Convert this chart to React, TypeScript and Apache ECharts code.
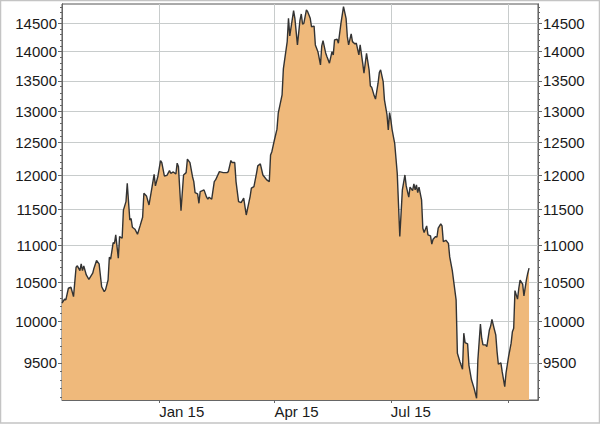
import React, { useEffect, useRef } from "react";
import * as echarts from "echarts";

const dates: string[] = [
  "2014-10-17","2014-10-19","2014-10-20","2014-10-22","2014-10-24","2014-10-26","2014-10-28","2014-10-29","2014-10-31","2014-11-01",
  "2014-11-02","2014-11-03","2014-11-05","2014-11-07","2014-11-10","2014-11-11","2014-11-13","2014-11-15","2014-11-17","2014-11-19",
  "2014-11-20","2014-11-22","2014-11-23","2014-11-24","2014-11-26","2014-11-27","2014-11-28","2014-11-30","2014-12-01","2014-12-03",
  "2014-12-04","2014-12-06","2014-12-07","2014-12-09","2014-12-10","2014-12-11","2014-12-13","2014-12-15","2014-12-17","2014-12-19",
  "2014-12-20","2014-12-22","2014-12-24","2014-12-26","2014-12-28","2014-12-29","2014-12-31","2015-01-02","2015-01-03","2015-01-05",
  "2015-01-07","2015-01-09","2015-01-10","2015-01-12","2015-01-14","2015-01-15","2015-01-16","2015-01-18","2015-01-20","2015-01-22",
  "2015-01-23","2015-01-25","2015-01-27","2015-01-28","2015-01-29","2015-01-31","2015-02-01","2015-02-02","2015-02-05","2015-02-07",
  "2015-02-08","2015-02-09","2015-02-11","2015-02-13","2015-02-14","2015-02-17","2015-02-20","2015-02-23","2015-02-24","2015-02-26",
  "2015-02-27","2015-03-01","2015-03-02","2015-03-04","2015-03-06","2015-03-08","2015-03-09","2015-03-10","2015-03-13","2015-03-14",
  "2015-03-16","2015-03-18","2015-03-19","2015-03-21","2015-03-23","2015-03-25","2015-03-26","2015-03-28","2015-03-29","2015-03-30",
  "2015-04-01","2015-04-03","2015-04-04","2015-04-07","2015-04-08","2015-04-11","2015-04-12","2015-04-13","2015-04-16","2015-04-17",
  "2015-04-19","2015-04-21","2015-04-22","2015-04-23","2015-04-24","2015-04-26","2015-04-27","2015-04-29","2015-04-30","2015-05-02",
  "2015-05-03","2015-05-05","2015-05-07","2015-05-08","2015-05-09","2015-05-11","2015-05-12","2015-05-14","2015-05-16","2015-05-17",
  "2015-05-18","2015-05-20","2015-05-21","2015-05-23","2015-05-25","2015-05-27","2015-05-28","2015-05-29","2015-05-31","2015-06-01",
  "2015-06-03","2015-06-04","2015-06-06","2015-06-07","2015-06-09","2015-06-10","2015-06-12","2015-06-14","2015-06-15","2015-06-16",
  "2015-06-18","2015-06-19","2015-06-21","2015-06-22","2015-06-23","2015-06-25","2015-06-26","2015-06-28","2015-06-29","2015-06-30",
  "2015-07-01","2015-07-02","2015-07-04","2015-07-06","2015-07-08","2015-07-10","2015-07-12","2015-07-13","2015-07-15","2015-07-16",
  "2015-07-18","2015-07-19","2015-07-20","2015-07-21","2015-07-22","2015-07-23","2015-07-25","2015-07-26","2015-07-27","2015-07-29",
  "2015-07-30","2015-08-01","2015-08-02","2015-08-03","2015-08-05","2015-08-06","2015-08-07","2015-08-09","2015-08-10","2015-08-11",
  "2015-08-13","2015-08-15","2015-08-16","2015-08-18","2015-08-21","2015-08-22","2015-08-24","2015-08-26","2015-08-27","2015-08-28",
  "2015-08-30","2015-08-31","2015-09-02","2015-09-04","2015-09-06","2015-09-07","2015-09-09","2015-09-10","2015-09-11","2015-09-13",
  "2015-09-14","2015-09-16","2015-09-17","2015-09-18","2015-09-20","2015-09-21","2015-09-22","2015-09-23","2015-09-25","2015-09-26",
  "2015-09-28","2015-09-29","2015-10-01","2015-10-03","2015-10-04","2015-10-05","2015-10-06","2015-10-08","2015-10-09","2015-10-10",
  "2015-10-12","2015-10-13","2015-10-15","2015-10-16","2015-10-17",
];

const values: number[] = [
  10233,10284,10275,10425,10438,10317,10702,10720,10657,10747,
  10657,10720,10599,10542,10622,10689,10791,10747,10445,10381,
  10403,10532,10836,10810,11034,11025,11141,10823,11118,11095,
  11491,11613,11883,11351,11370,11249,11221,11151,11267,11389,
  11736,11696,11565,11784,12015,11843,11990,12223,12192,11990,
  12000,12070,12030,12050,12020,12183,12131,11482,12005,12040,
  12244,12192,11979,11906,11745,11726,11589,11760,11784,11677,
  11648,11677,11648,11906,11931,12055,12040,12040,12055,12223,
  12192,12192,11906,11613,11598,11663,11540,11421,11686,11809,
  11833,12030,12142,12172,12005,11956,11931,11906,12309,12359,
  12540,12710,12965,13266,13702,14175,14592,14276,14732,14592,
  14117,14561,14671,14488,14500,14745,14713,14592,14440,14452,
  14117,13998,13770,14099,14193,13981,13913,13800,13998,13942,
  14205,14217,14147,14500,14805,14592,14263,14117,14311,14175,
  14134,14147,13942,14117,13800,13628,13971,13685,13414,13393,
  13249,13195,13459,13639,13685,13485,13183,12938,12699,12975,
  12858,12699,12488,12030,11118,11784,12005,11843,11677,11824,
  11774,11872,11784,11858,11745,11824,11638,11235,11174,11267,
  11141,11127,11015,11081,11118,11109,11235,11295,11267,11048,
  11067,11025,10840,10659,10275,9614,9512,9424,9857,9743,
  9727,9473,9301,9205,9090,9533,9970,9796,9715,9715,
  9694,9897,9945,10028,9897,9836,9634,9485,9500,9396,
  9223,9378,9573,9736,9876,9918,10394,10284,10425,10532,
  10480,10327,10542,10622,10689,
];

const yTicks: number[] = [9500, 10000, 10500, 11000, 11500, 12000, 12500, 13000, 13500, 14000, 14500];
const yMinorTicks: number[] = [
  9100, 9200, 9300, 9400, 9600, 9700, 9800, 9900, 10100, 10200, 10300, 10400,
  10600, 10700, 10800, 10900, 11100, 11200, 11300, 11400, 11600, 11700, 11800, 11900,
  12100, 12200, 12300, 12400, 12600, 12700, 12800, 12900, 13100, 13200, 13300, 13400,
  13600, 13700, 13800, 13900, 14100, 14200, 14300, 14400, 14600, 14700, 14800,
];
const xGridDates: string[] = ["2015-01-01", "2015-04-01", "2015-07-01", "2015-10-01"];
const xLabelDates: string[] = ["2015-01-01", "2015-04-01", "2015-07-01"];
const monthNames: string[] = ["Jan", "Feb", "Mar", "Apr", "May", "Jun", "Jul", "Aug", "Sep", "Oct", "Nov", "Dec"];
const xMin = "2014-10-17";
const xMax = "2015-10-24";
const yMin = 9070;
const yMax = 14855;

function toTs(s: string): number {
  const [y, m, d] = s.split("-").map(Number);
  return new Date(y, m - 1, d).getTime();
}

const FONT = "'Liberation Sans', Arial, sans-serif";

export default function App() {
  const ref = useRef<HTMLDivElement>(null);
  useEffect(() => {
    if (!ref.current) return;
    const chart = echarts.init(ref.current, undefined, { renderer: "svg" });
    const labelStyle = { color: "#1a1a1a", fontSize: 15, fontFamily: FONT };
    const yBase = (pos: "left" | "right", main: boolean) => ({
      type: "log" as const,
      logBase: 10,
      position: pos,
      min: yMin,
      max: yMax,
      axisLine: { show: true, lineStyle: { color: "#666", width: 1 } },
      axisTick: {
        show: true,
        length: main ? 4 : 2,
        customValues: main ? yTicks : yMinorTicks,
        lineStyle: { color: "#666", width: 1 },
      },
      axisLabel: main
        ? { show: true, customValues: yTicks, margin: 5, ...labelStyle, formatter: (v: number) => String(Math.round(v)) }
        : { show: false },
      splitLine: { show: main && pos === "left", lineStyle: { color: "#c8cccc", width: 1 } },
    });
    chart.setOption({
      animation: false,
      backgroundColor: "#ffffff",
      grid: { left: 62, right: 62, top: 4, bottom: 24, show: true, borderColor: "#555", borderWidth: 1, backgroundColor: "transparent" },
      xAxis: {
        type: "value",
        min: toTs(xMin),
        max: toTs(xMax),
        axisLine: { show: true, lineStyle: { color: "#666", width: 1 } },
        axisTick: { show: true, length: 3, customValues: xGridDates.map(toTs), lineStyle: { color: "#666" } },
        axisLabel: {
          show: true,
          customValues: xLabelDates.map(toTs),
          align: "left",
          margin: 4,
          ...labelStyle,
          formatter: (v: number) => {
            const d = new Date(v);
            return monthNames[d.getMonth()] + " " + String(d.getFullYear()).slice(2);
          },
        },
        splitLine: { show: true, lineStyle: { color: "#c8cccc", width: 1 } },
      },
      yAxis: [yBase("left", true), yBase("right", true), yBase("left", false), yBase("right", false)],
      series: [
        {
          type: "line",
          yAxisIndex: 0,
          data: dates.map((d, i) => [toTs(d), values[i]]),
          symbol: "none",
          showSymbol: false,
          lineStyle: { color: "#333", width: 1.4 },
          areaStyle: { color: "#efb97b", opacity: 1, origin: "start" },
          z: 3,
        },
      ],
      graphic: [
        {
          type: "rect",
          shape: { x: 0.5, y: 0.5, width: 599, height: 422.5 },
          style: { fill: "none", stroke: "#c4c4c4", lineWidth: 1.5 },
          silent: true,
          z: 100,
        },
      ],
    });
    return () => chart.dispose();
  }, []);
  return <div ref={ref} style={{ position: "fixed", left: 0, top: 0, width: 600, height: 424 }} />;
}
